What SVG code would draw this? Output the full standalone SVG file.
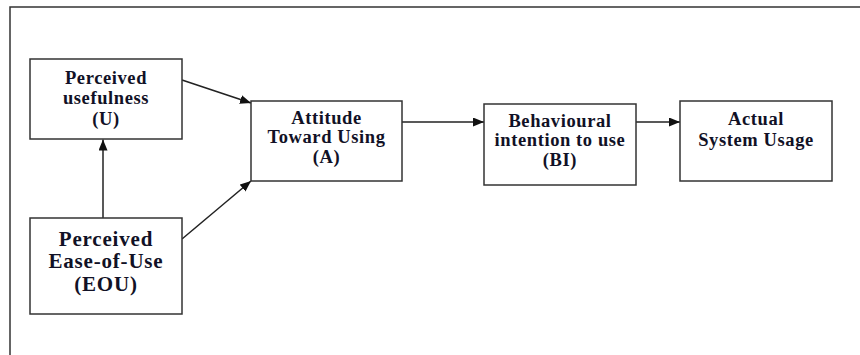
<svg xmlns="http://www.w3.org/2000/svg" width="860" height="355" viewBox="0 0 860 355">
  <style>
    .box { fill: #fff; stroke: #333; stroke-width: 1.5; }
    .lbl { font-family: "Liberation Serif", "Times New Roman", serif; font-weight: bold; font-size: 18.5px; letter-spacing: 0.6px; fill: #111126; text-anchor: middle; }
    .big { font-size: 21px; letter-spacing: 0.8px; }
    .conn { stroke: #222; stroke-width: 1.5; fill: none; marker-end: url(#ah); }
  </style>
  <defs>
    <marker id="ah" markerUnits="userSpaceOnUse" markerWidth="12" markerHeight="10" refX="11" refY="4.5" orient="auto">
      <path d="M0,0 L11,4.5 L0,9 z" fill="#111"/>
    </marker>
  </defs>
  <rect x="0" y="0" width="860" height="355" fill="#fff"/>
  <rect id="frame" x="10" y="7" width="900" height="400" fill="none" stroke="#333" stroke-width="1.5"/>

  <g id="connectors">
    <line class="conn" x1="182" y1="80" x2="251" y2="103"/>
    <line class="conn" x1="182" y1="239" x2="251" y2="181"/>
    <line class="conn" x1="103" y1="218" x2="103" y2="139.5"/>
    <line class="conn" x1="402" y1="122" x2="484" y2="122"/>
    <line class="conn" x1="636" y1="122" x2="680" y2="122"/>
  </g>

  <g id="node-U">
    <rect class="box" x="30" y="59" width="152" height="80"/>
    <text class="lbl" x="106" y="84">Perceived</text>
    <text class="lbl" x="106" y="104">usefulness</text>
    <text class="lbl" x="106" y="125">(U)</text>
  </g>

  <g id="node-EOU">
    <rect class="box" x="30" y="218" width="152" height="96"/>
    <text class="lbl big" x="106" y="246">Perceived</text>
    <text class="lbl big" x="106" y="268">Ease-of-Use</text>
    <text class="lbl big" x="106" y="291">(EOU)</text>
  </g>

  <g id="node-A">
    <rect class="box" x="251" y="101" width="151" height="80"/>
    <text class="lbl" x="326.5" y="124">Attitude</text>
    <text class="lbl" x="326.5" y="143">Toward Using</text>
    <text class="lbl" x="326.5" y="163">(A)</text>
  </g>

  <g id="node-BI">
    <rect class="box" x="484" y="104" width="152" height="81"/>
    <text class="lbl" x="560" y="127">Behavioural</text>
    <text class="lbl" x="560" y="146">intention to use</text>
    <text class="lbl" x="560" y="166">(BI)</text>
  </g>

  <g id="node-Actual">
    <rect class="box" x="680" y="101" width="152" height="80"/>
    <text class="lbl" x="756" y="125">Actual</text>
    <text class="lbl" x="756" y="146">System Usage</text>
  </g>
</svg>
